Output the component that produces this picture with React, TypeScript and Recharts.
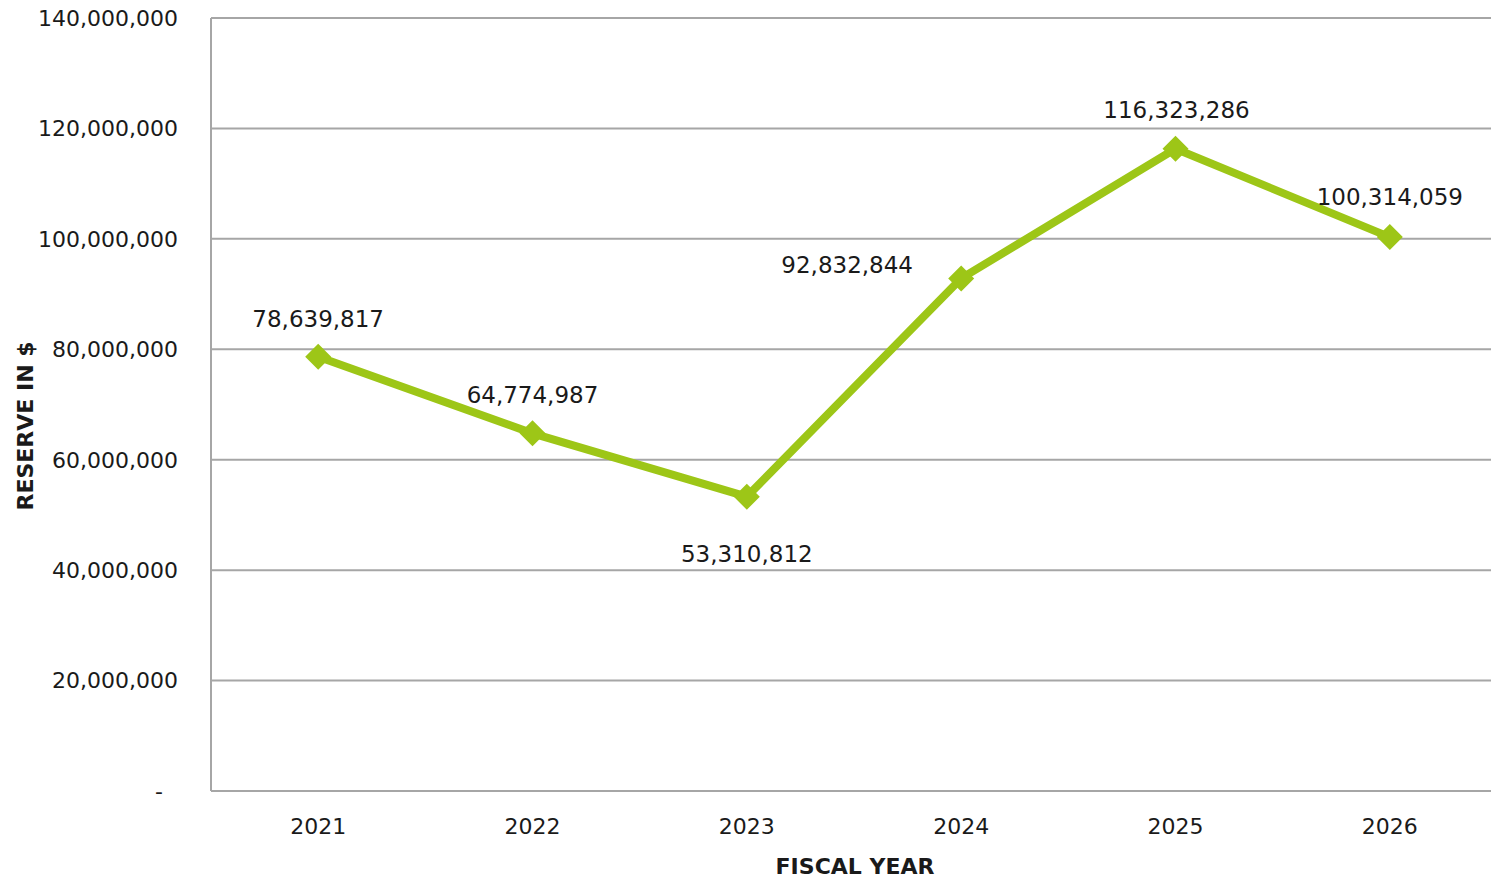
import { CartesianGrid, LabelList, Line, LineChart, XAxis, YAxis } from "recharts";

const years = ["2021", "2022", "2023", "2024", "2025", "2026"];
const reserves = [78639817, 64774987, 53310812, 92832844, 116323286, 100314059];
const yTicks = [0, 20000000, 40000000, 60000000, 80000000, 100000000, 120000000, 140000000];
// where each value label sits relative to its point (hand-placed in the source)
const labelOffsets = [
  [0, -38],
  [0, -39],
  [0, 57],
  [-114, -14],
  [1, -39],
  [0, -40],
];

const data = years.map((year, i) => ({ year, reserve: reserves[i] }));

const FONT = "'DejaVu Sans', sans-serif";
const GREEN = "#9dc617";
const GRID = "#a6a6a6";
const TEXT = "#1a1a1a";

function fmt(v: number) {
  return v.toLocaleString("en-US");
}

function YTick({ x, y, payload }: any) {
  const zero = payload.value === 0;
  return (
    <text
      x={x - (zero ? 15 : 0)}
      y={y}
      dy="0.36em"
      textAnchor="end"
      fill={TEXT}
      fontSize={22}
      fontFamily={FONT}
    >
      {zero ? "-" : fmt(payload.value)}
    </text>
  );
}

function Diamond({ cx, cy }: any) {
  if (cx == null || cy == null) return null;
  const r = 13;
  return (
    <polygon
      points={`${cx},${cy - r} ${cx + r},${cy} ${cx},${cy + r} ${cx - r},${cy}`}
      fill={GREEN}
    />
  );
}

function ValueLabel({ x, y, value, index }: any) {
  const [dx, dy] = labelOffsets[index] ?? [0, -38];
  return (
    <text
      x={x + dx}
      y={y + dy}
      dy="0.36em"
      textAnchor="middle"
      fill={TEXT}
      fontSize={23}
      fontFamily={FONT}
    >
      {fmt(value)}
    </text>
  );
}

export default function App() {
  return (
    <div style={{ position: "absolute", left: 0, top: 0, background: "#fff", overflow: "hidden", width: 1491, height: 881 }}>
      <LineChart
        width={1491}
        height={881}
        data={data}
        margin={{ top: 18, right: -6, left: 0, bottom: 0 }}
      >
        <CartesianGrid vertical={false} stroke={GRID} strokeWidth={2} />
        <XAxis
          dataKey="year"
          scale="band"
          height={90}
          axisLine={{ stroke: GRID, strokeWidth: 2 }}
          tickLine={false}
          tickSize={0}
          tickMargin={27}
          tick={{ fill: TEXT, fontSize: 22, fontFamily: FONT }}
          label={{
            content: () => (
              <text
                x={855}
                y={866}
                dy="0.36em"
                textAnchor="middle"
                fill={TEXT}
                fontSize={22}
                fontWeight="bold"
                fontFamily={FONT}
              >
                FISCAL YEAR
              </text>
            ),
          }}
        />
        <YAxis
          width={211}
          domain={[0, 140000000]}
          ticks={yTicks}
          interval={0}
          axisLine={{ stroke: GRID, strokeWidth: 2 }}
          tickLine={false}
          tickSize={0}
          tickMargin={33}
          tick={<YTick />}
          label={{
            content: () => (
              <text
                x={25}
                y={426}
                dy="0.36em"
                transform="rotate(-90, 25, 426)"
                textAnchor="middle"
                fill={TEXT}
                fontSize={22}
                fontWeight="bold"
                fontFamily={FONT}
              >
                RESERVE IN $
              </text>
            ),
          }}
        />
        <Line
          type="linear"
          dataKey="reserve"
          stroke={GREEN}
          strokeWidth={8}
          dot={<Diamond />}
          activeDot={false}
          isAnimationActive={false}
        >
          <LabelList dataKey="reserve" content={<ValueLabel />} />
        </Line>
      </LineChart>
    </div>
  );
}
